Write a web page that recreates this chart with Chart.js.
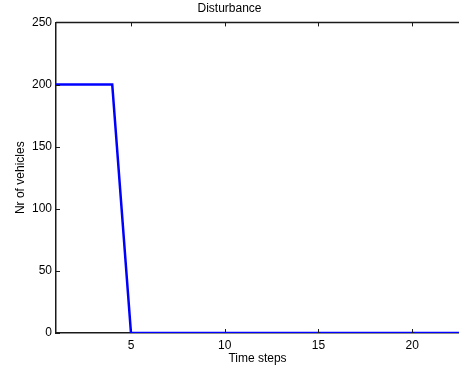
<!DOCTYPE html>
<html>
<head>
<meta charset="utf-8">
<script src="https://cdn.jsdelivr.net/npm/chart.js@4/dist/chart.umd.min.js"></script>
<style>
    body { margin: 0; background: #fff; overflow: hidden; }
    canvas { display: block; }
</style>
</head>
<body>
<canvas id="disturbanceChart" width="459" height="373"></canvas>
<script>
// Disturbance input: vehicles entering per time step
const timeSteps = [1, 2, 3, 4, 5, 6, 7, 8, 9, 10, 11, 12, 13, 14, 15, 16, 17, 18, 19, 20, 21, 22, 23];
const vehicles = [200, 200, 200, 200, 0, 0, 0, 0, 0, 0, 0, 0, 0, 0, 0, 0, 0, 0, 0, 0, 0, 0, 0];
const xTicks = [5, 10, 15, 20];
const yTicks = [0, 50, 100, 150, 200, 250];

const FONT = 'Liberation Sans, Arial, Helvetica, sans-serif';
const AXIS_COLOR = '#1a1a1a';

// Inward tick marks on left, bottom and top edges plus the top border line
const insideTicks = {
    id: 'insideTicks',
    afterDraw(chart) {
        const { ctx, chartArea: area, scales } = chart;
        const len = 4;
        ctx.save();
        ctx.strokeStyle = AXIS_COLOR;
        ctx.lineWidth = 1;
        ctx.beginPath();
        xTicks.forEach(v => {
            const x = Math.round(scales.x.getPixelForValue(v)) + 0.5;
            ctx.moveTo(x, area.bottom);
            ctx.lineTo(x, area.bottom - len);
            ctx.moveTo(x, area.top);
            ctx.lineTo(x, area.top + len);
        });
        yTicks.forEach(v => {
            const y = Math.round(scales.y.getPixelForValue(v)) + 0.5;
            ctx.moveTo(area.left, y);
            ctx.lineTo(area.left + len, y);
        });
        ctx.stroke();
        ctx.lineWidth = 1.5;
        ctx.beginPath();
        ctx.moveTo(area.left, area.top);
        ctx.lineTo(area.right, area.top);
        ctx.stroke();
        ctx.restore();
    }
};

new Chart(document.getElementById('disturbanceChart'), {
    type: 'line',
    data: {
        datasets: [{
            data: timeSteps.map((t, i) => ({ x: t, y: vehicles[i] })),
            borderColor: '#0000ff',
            borderWidth: 2.5,
            pointRadius: 0,
            tension: 0,
            fill: false
        }]
    },
    options: {
        responsive: false,
        animation: false,
        layout: { padding: 0 },
        plugins: {
            legend: { display: false },
            tooltip: { enabled: false },
            title: {
                display: true,
                text: 'Disturbance',
                color: '#000',
                font: { family: FONT, size: 12, weight: 'normal' },
                padding: { top: 1, bottom: 7 }
            }
        },
        scales: {
            x: {
                type: 'linear',
                min: 1,
                max: 22.5,
                afterBuildTicks: scale => { scale.ticks = xTicks.map(v => ({ value: v })); },
                afterFit: scale => { scale.height = 40; },
                grid: { display: false, drawTicks: false },
                border: { display: true, color: AXIS_COLOR, width: 1.5 },
                ticks: {
                    color: '#000',
                    font: { family: FONT, size: 12 },
                    padding: 5,
                    maxRotation: 0,
                    autoSkip: false
                },
                title: {
                    display: true,
                    text: 'Time steps',
                    color: '#000',
                    font: { family: FONT, size: 12 },
                    padding: { top: 0, bottom: 7 }
                }
            },
            y: {
                min: 0,
                max: 250,
                afterBuildTicks: scale => { scale.ticks = yTicks.map(v => ({ value: v })); },
                afterFit: scale => { scale.width = 56; },
                grid: { display: false, drawTicks: false },
                border: { display: true, color: AXIS_COLOR, width: 1.5 },
                ticks: {
                    color: '#000',
                    font: { family: FONT, size: 12 },
                    padding: 4
                },
                title: {
                    display: true,
                    text: 'Nr of vehicles',
                    color: '#000',
                    font: { family: FONT, size: 12 },
                    padding: { top: 13, bottom: 0 }
                }
            }
        }
    },
    plugins: [insideTicks]
});
</script>
</body>
</html>
